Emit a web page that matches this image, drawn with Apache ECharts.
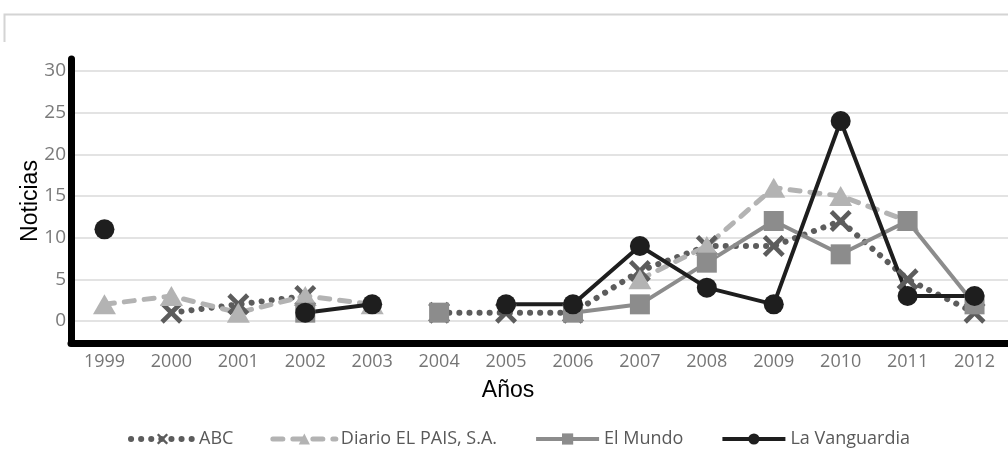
<!DOCTYPE html>
<html>
<head>
<meta charset="utf-8">
<script src="https://cdn.jsdelivr.net/npm/echarts@6/dist/echarts.min.js"></script>
<style>
html,body{margin:0;padding:0;background:#fff;}
#c{width:1008px;height:462px;}
</style>
</head>
<body>
<div id="c"></div>
<script>
var years = ['1999','2000','2001','2002','2003','2004','2005','2006','2007','2008','2009','2010','2011','2012'];
var yTicks = [0, 5, 10, 15, 20, 25, 30];
var abc          = [null, 1, 2, 3, null, 1, 1, 1, 6, 9, 9, 12, 5, 1];
var diarioElPais = [2, 3, 1, 3, 2, null, null, null, 5, 9, 16, 15, 12, null];
var elMundo      = [null, null, null, 1, null, 1, null, 1, 2, 7, 12, 8, 12, 2];
var laVanguardia = [11, null, null, 1, 2, null, 2, 2, 9, 4, 2, 24, 3, 3];

var xPath = 'path://M0,1.5 L1.5,0 L5,3.5 L8.5,0 L10,1.5 L6.5,5 L10,8.5 L8.5,10 L5,6.5 L1.5,10 L0,8.5 L3.5,5 Z';

var chart = echarts.init(document.getElementById('c'), null, {renderer: 'canvas'});
chart.setOption({
  animation: false,
  backgroundColor: '#ffffff',
  graphic: [{
    type: 'polyline',
    shape: {points: [[4.5, 42], [4.5, 14.5], [1008, 14.5]]},
    style: {stroke: '#d4d4d4', lineWidth: 2, fill: null},
    silent: true
  }],
  grid: {left: 71, right: -6, top: 59, bottom: 119, containLabel: false},
  legend: {
    left: 123, top: 425,
    itemWidth: 63, itemHeight: 14, itemGap: 37,
    lineStyle: {width: 'inherit'},
    textStyle: {fontFamily: 'Open Sans', fontSize: 18, color: '#595959'},
    data: ['ABC', 'Diario EL PAIS, S.A.', 'El Mundo', 'La Vanguardia']
  },
  xAxis: {
    type: 'category',
    data: years,
    boundaryGap: true,
    name: 'Años',
    nameLocation: 'middle',
    nameGap: 36,
    nameMoveOverlap: false,
    nameTextStyle: {fontFamily: 'Liberation Sans', fontSize: 23, color: '#000', padding: [0, 63, 0, 0]},
    axisLine: {show: true, onZero: false, lineStyle: {color: '#000', width: 7}},
    axisTick: {show: false},
    axisLabel: {fontFamily: 'Open Sans', fontSize: 18, color: '#757575', margin: 10},
    splitLine: {show: false}
  },
  yAxis: {
    type: 'value',
    min: -2.64,
    max: 31.44,
    name: 'Noticias',
    nameLocation: 'middle',
    nameRotate: 90,
    nameGap: 29,
    nameMoveOverlap: false,
    nameTextStyle: {fontFamily: 'Liberation Sans', fontSize: 23, color: '#000'},
    axisLine: {show: true, onZero: false, lineStyle: {color: '#000', width: 7}},
    axisTick: {show: false, customValues: yTicks},
    axisLabel: {customValues: yTicks, fontFamily: 'Open Sans', fontSize: 19, color: '#7a7a7a', margin: 5},
    splitLine: {show: true, lineStyle: {color: '#dadada', width: 1.5}}
  },
  series: [
    {
      name: 'ABC', type: 'line', data: abc, connectNulls: false,
      symbol: xPath, symbolSize: 22, symbolKeepAspect: true,
      lineStyle: {color: '#5c5c5c', width: 6, type: [0.1, 10], cap: 'round'},
      itemStyle: {color: '#5c5c5c'}
    },
    {
      name: 'Diario EL PAIS, S.A.', type: 'line', data: diarioElPais, connectNulls: false,
      symbol: 'triangle', symbolSize: [23, 20],
      lineStyle: {color: '#b3b3b3', width: 5, type: [10, 10], cap: 'round'},
      itemStyle: {color: '#b3b3b3'}
    },
    {
      name: 'El Mundo', type: 'line', data: elMundo, connectNulls: false,
      symbol: 'rect', symbolSize: 20,
      lineStyle: {color: '#8c8c8c', width: 4},
      itemStyle: {color: '#8c8c8c'}
    },
    {
      name: 'La Vanguardia', type: 'line', data: laVanguardia, connectNulls: false,
      symbol: 'circle', symbolSize: 20,
      lineStyle: {color: '#1e1e1e', width: 4},
      itemStyle: {color: '#1e1e1e'}
    }
  ]
});
</script>
</body>
</html>
